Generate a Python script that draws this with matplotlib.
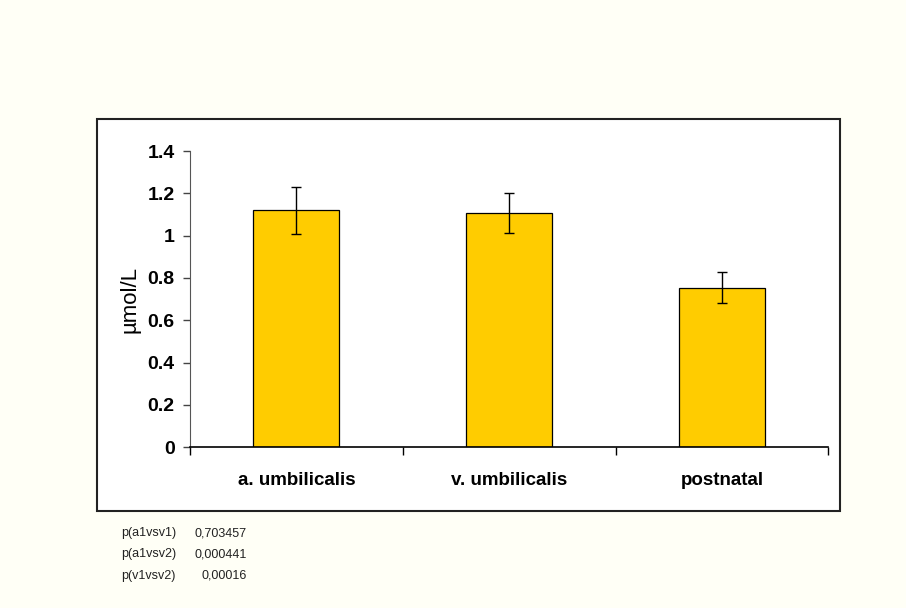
import matplotlib
matplotlib.use("Agg")
import matplotlib.pyplot as plt
from matplotlib.patches import Rectangle
from matplotlib.ticker import FixedLocator
from matplotlib import font_manager as fm

categories = ['a. umbilicalis', 'v. umbilicalis', 'postnatal']
means = [1.12, 1.107, 0.755]
errors = [0.112, 0.094, 0.075]
p_names = ['p(a1vsv1)', 'p(a1vsv2)', 'p(v1vsv2)']
p_values = ['0,703457', '0,000441', '0,00016']

# pick regular-width Liberation Sans (avoid the Narrow variant)
fs = fm.findSystemFonts()
reg = [f for f in fs if f.endswith('LiberationSans-Regular.ttf')]
bld = [f for f in fs if f.endswith('LiberationSans-Bold.ttf')]
def fp(size, bold=False):
    files = bld if bold else reg
    if files:
        return fm.FontProperties(fname=files[0], size=size)
    return fm.FontProperties(family='DejaVu Sans', size=size,
                             weight='bold' if bold else 'normal')

W, H = 906, 608
fig = plt.figure(figsize=(W / 100, H / 100), dpi=100)
fig.patch.set_facecolor('#FFFFF6')

# outer chart box
box = Rectangle((96.7 / W, 1 - 511 / H), (840 - 96.7) / W, (511 - 119) / H,
                transform=fig.transFigure, facecolor='white',
                edgecolor='#222222', linewidth=1.5, zorder=-1)
fig.patches.append(box)

ax = fig.add_axes([190 / W, 1 - 447.3 / H, (828.3 - 190) / W, (447.3 - 151) / H])
ax.set_zorder(2)
ax.set_facecolor('none')

x = range(len(categories))
ax.bar(x, means, width=0.405, color='#FFCC00', edgecolor='black', linewidth=0.9)
ax.errorbar(x, means, yerr=errors, fmt='none', ecolor='black',
            elinewidth=1.0, capsize=3.5, capthick=1.0)

ax.set_xlim(-0.5, 2.5)
ax.set_ylim(0, 1.4)
ax.set_yticks([0, 0.2, 0.4, 0.6, 0.8, 1.0, 1.2, 1.4])
ax.set_yticklabels(['0', '0.2', '0.4', '0.6', '0.8', '1', '1.2', '1.4'],
                   fontproperties=fp(14, True))
ax.set_xticks(list(x))
ax.set_xticklabels(categories, fontproperties=fp(13.5, True))
ax.tick_params(axis='x', which='major', length=0, pad=18)
ax.xaxis.set_minor_locator(FixedLocator([-0.5, 0.5, 1.5, 2.5]))
ax.tick_params(axis='x', which='minor', length=6, width=1, color='black')
ax.tick_params(axis='y', length=5, width=1, color='#444444', pad=6)

for s in ['top', 'right']:
    ax.spines[s].set_visible(False)
ax.spines['left'].set_color('#555555')
ax.spines['bottom'].set_color('black')
ax.spines['bottom'].set_linewidth(1.2)

ax.set_ylabel('µmol/L', fontproperties=fp(16))
ax.yaxis.set_label_coords((141 - 190) / (828.3 - 190), 0.5)

# p-values below the chart
for i, (n, v) in enumerate(zip(p_names, p_values)):
    yy = 1 - (533 + 21.5 * i) / H
    fig.text(121 / W, yy, n, fontproperties=fp(9), ha='left', va='center', color='#222222')
    fig.text(247 / W, yy, v, fontproperties=fp(9), ha='right', va='center', color='#222222')

fig.savefig('out.png', dpi=100, facecolor=fig.get_facecolor())
